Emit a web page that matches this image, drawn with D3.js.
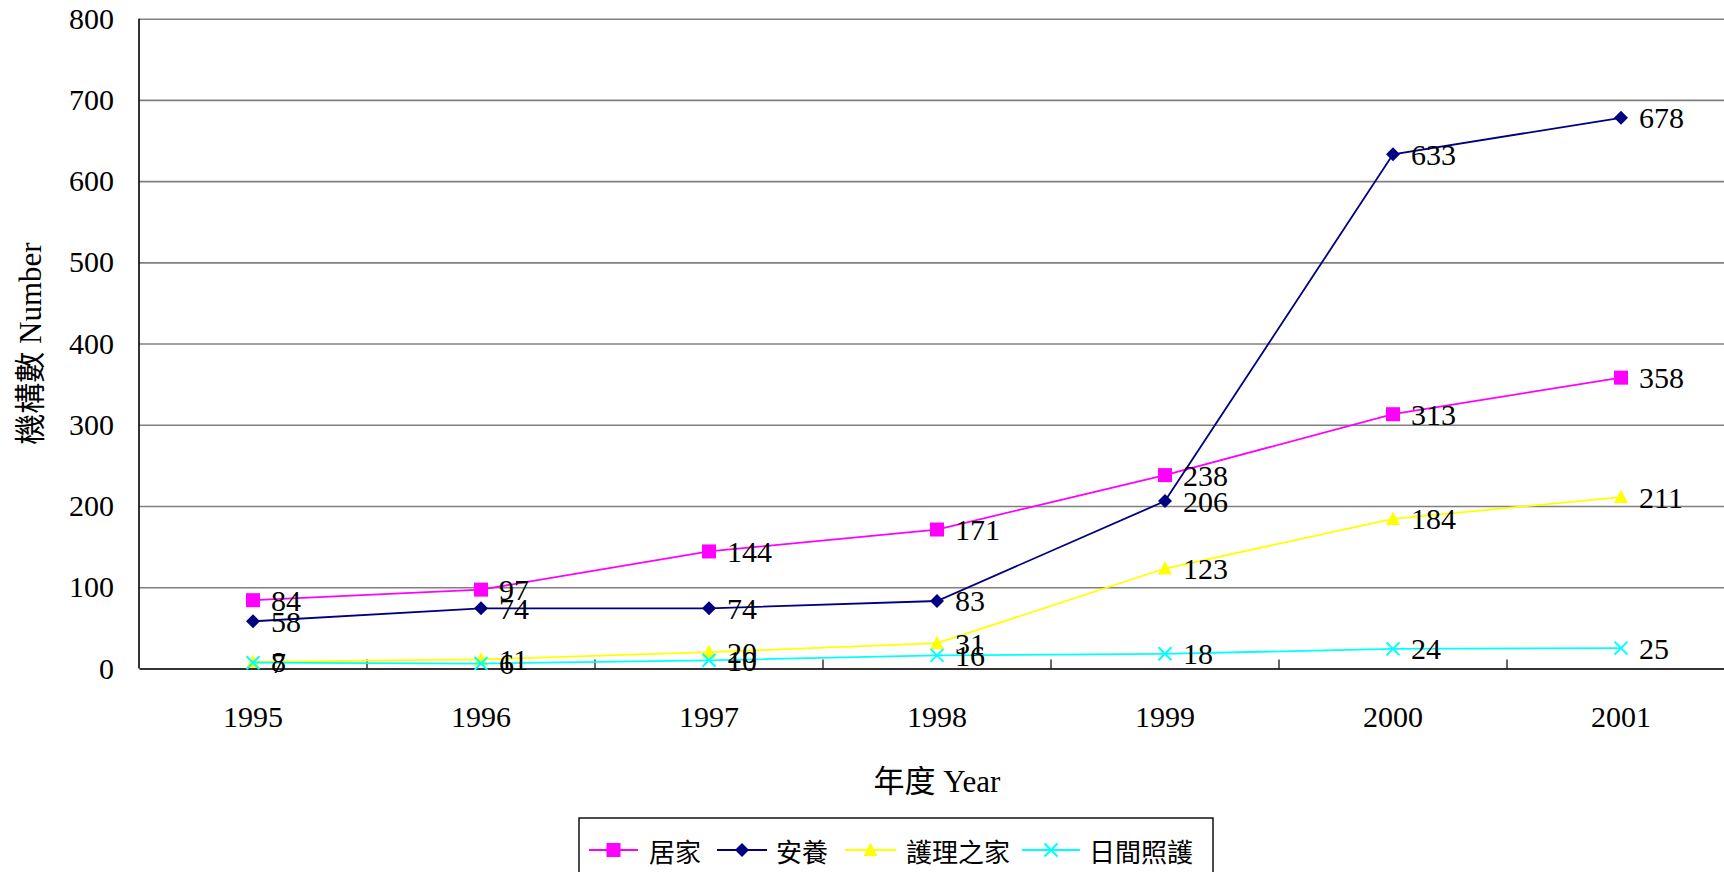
<!DOCTYPE html>
<html><head><meta charset="utf-8">
<script src="https://cdn.jsdelivr.net/npm/d3@7/dist/d3.min.js"></script>
<style>
html,body{margin:0;padding:0;background:#fff;overflow:hidden;}
svg{display:block;}
</style></head>
<body>
<svg id="chart" width="1724" height="872"></svg>
<script>
const years = ["1995","1996","1997","1998","1999","2000","2001"];
const seriesNames = ["居家","安養","護理之家","日間照護"];
const homeCare = [84, 97, 144, 171, 238, 313, 358];
const seniorCare = [58, 74, 74, 83, 206, 633, 678];
const nursingHome = [8, 11, 20, 31, 123, 184, 211];
const dayCare = [7, 6, 10, 16, 18, 24, 25];
const yTicks = [0,100,200,300,400,500,600,700,800];
const colors = ["#FF00FF","#000080","#FFFF00","#00FFFF"];
const symbols = ["square","diamond","triangle","cross"];
const allSeries = [homeCare, seniorCare, nursingHome, dayCare];

(function(){
const svg = d3.select("#chart");
const pL = 139, pR = 1735, pT = 18.7, pB = 668.4;
const x = d3.scaleBand().domain(years).range([pL, pR]).padding(0);
const y = d3.scaleLinear().domain([0, 800]).range([pB, pT]);
const serif = "'Liberation Serif','Times New Roman',serif";
const cjk = "'Liberation Serif','Noto Sans CJK TC','Noto Sans CJK SC',serif";

// gridlines
svg.append("g").attr("transform", `translate(${pL},0)`)
  .call(d3.axisLeft(y).tickValues(yTicks.slice(1)).tickSize(-(pR-pL)).tickFormat(""))
  .call(g => g.select(".domain").remove())
  .call(g => g.selectAll("line").attr("stroke", "#808080").attr("stroke-width", 1.6));

// y axis labels
svg.append("g").attr("transform", `translate(${pL},0)`)
  .call(d3.axisLeft(y).tickValues(yTicks).tickSize(0).tickPadding(25))
  .call(g => g.select(".domain").remove())
  .call(g => g.selectAll("text").attr("font-family", serif).attr("font-size", 30).attr("fill", "#000"));

// left axis line
svg.append("line").attr("x1", pL).attr("x2", pL).attr("y1", pT).attr("y2", pB)
  .attr("stroke", "#000").attr("stroke-width", 1.6);

// x axis
svg.append("g").attr("transform", `translate(0,${pB})`)
  .call(d3.axisBottom(x).tickSize(0).tickPadding(37))
  .call(g => g.select(".domain").attr("stroke", "#333").attr("stroke-width", 2))
  .call(g => g.selectAll("text").attr("font-family", serif).attr("font-size", 30).attr("fill", "#000"));

// inner category boundary ticks
svg.append("g").selectAll("line").data(years.slice(1)).join("line")
  .attr("x1", d => x(d)).attr("x2", d => x(d))
  .attr("y1", pB).attr("y2", pB - 9)
  .attr("stroke", "#000").attr("stroke-width", 1.2);

// axis titles
svg.append("text").attr("x", (pL + pR) / 2).attr("y", 781)
  .attr("text-anchor", "middle").attr("dominant-baseline", "central")
  .attr("font-family", cjk).attr("font-size", 31).text("年度 Year");
svg.append("text").attr("transform", `translate(30,${(pT+pB)/2}) rotate(-90)`)
  .attr("text-anchor", "middle").attr("dominant-baseline", "central")
  .attr("font-family", cjk).attr("font-size", 31).text("機構數 Number");

const line = d3.line().x((d, i) => x(years[i]) + x.bandwidth() / 2).y(d => y(d));

function drawMarker(g, type, color, cx, cy) {
  if (type === "square") {
    g.append("rect").attr("x", cx - 7).attr("y", cy - 7).attr("width", 14).attr("height", 14).attr("fill", color);
  } else if (type === "diamond") {
    g.append("path").attr("d", `M${cx},${cy-7}L${cx+7},${cy}L${cx},${cy+7}L${cx-7},${cy}Z`).attr("fill", color);
  } else if (type === "triangle") {
    g.append("path").attr("d", `M${cx},${cy-7.5}L${cx+7},${cy+6}L${cx-7},${cy+6}Z`).attr("fill", color);
  } else {
    g.append("path").attr("d", `M${cx-6.5},${cy-6.5}L${cx+6.5},${cy+6.5}M${cx-6.5},${cy+6.5}L${cx+6.5},${cy-6.5}`)
      .attr("stroke", color).attr("stroke-width", 2).attr("fill", "none");
  }
}

// lines + markers
allSeries.forEach((vals, si) => {
  const g = svg.append("g");
  g.append("path").attr("d", line(vals)).attr("fill", "none")
    .attr("stroke", colors[si]).attr("stroke-width", 1.8);
  vals.forEach((v, i) => drawMarker(g, symbols[si], colors[si], x(years[i]) + x.bandwidth() / 2, y(v)));
});

// data labels
allSeries.forEach((vals, si) => {
  svg.append("g").selectAll("text").data(vals).join("text")
    .attr("x", (d, i) => x(years[i]) + x.bandwidth() / 2 + 18)
    .attr("y", d => y(d))
    .attr("dominant-baseline", "central")
    .attr("font-family", serif).attr("font-size", 30).attr("fill", "#000")
    .text(d => d);
});

// legend
const lg = svg.append("g");
lg.append("rect").attr("x", 579).attr("y", 818).attr("width", 634).attr("height", 80)
  .attr("fill", "#fff").attr("stroke", "#000").attr("stroke-width", 1.4);
const legendItems = [
  {lx1: 589, lx2: 638, tx: 649},
  {lx1: 717, lx2: 767, tx: 776},
  {lx1: 845, lx2: 896, tx: 906},
  {lx1: 1022, lx2: 1080, tx: 1089}
];
const ly = 850;
legendItems.forEach((it, si) => {
  lg.append("line").attr("x1", it.lx1).attr("x2", it.lx2).attr("y1", ly).attr("y2", ly)
    .attr("stroke", colors[si]).attr("stroke-width", 2);
  drawMarker(lg, symbols[si], colors[si], (it.lx1 + it.lx2) / 2, ly);
  lg.append("text").attr("x", it.tx).attr("y", ly).attr("dominant-baseline", "central")
    .attr("font-family", "'Noto Sans CJK TC','Noto Sans CJK SC',sans-serif").attr("font-size", 26)
    .attr("fill", "#000").text(seriesNames[si]);
});
})();
</script>
</body></html>
